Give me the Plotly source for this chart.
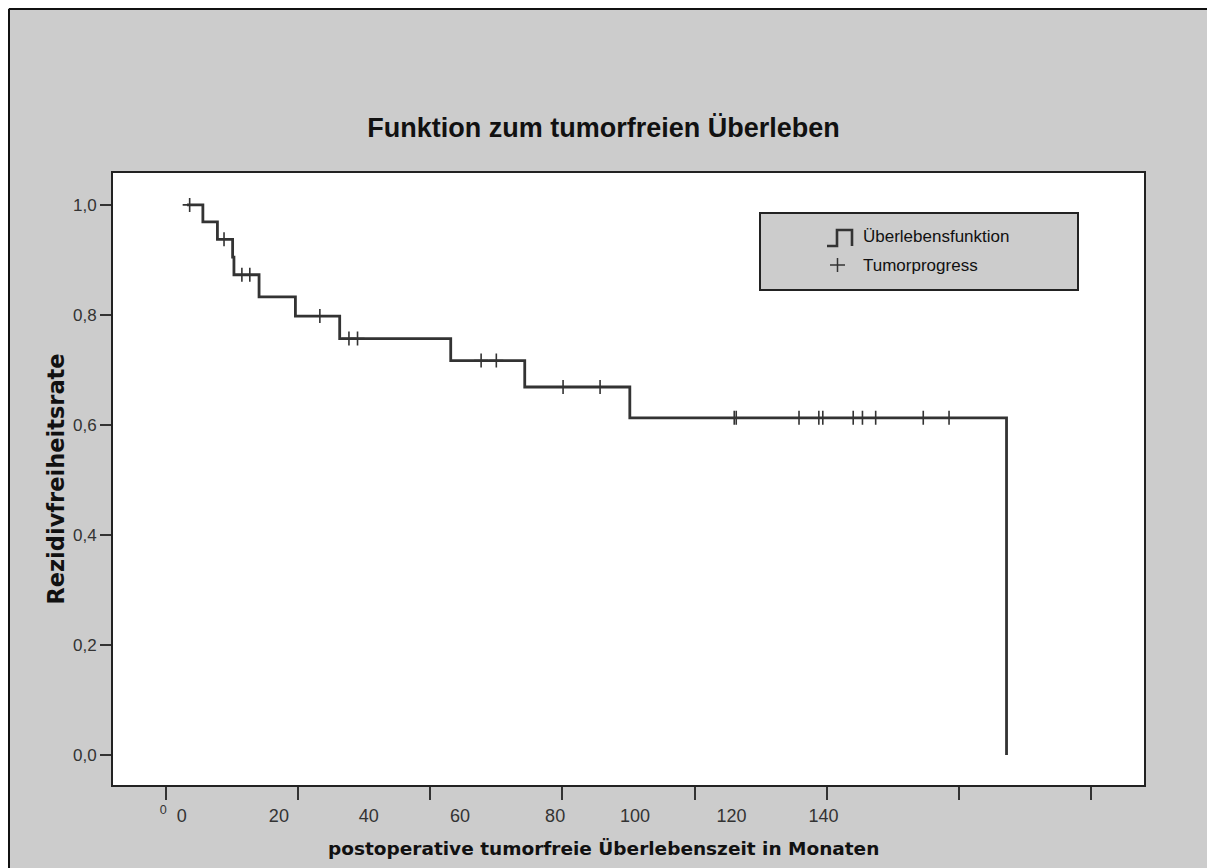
import plotly.graph_objects as go

# ---- data ----
step_times = [3.2, 5.6, 7.8, 10.1, 10.3, 14.1, 19.6, 26.3, 43.1, 54.3, 70.2, 127.2]
step_surv = [1.0, 0.969, 0.9375, 0.905, 0.873, 0.833, 0.798, 0.757, 0.717, 0.669, 0.613, 0.0]

censor_times = [3.6, 8.8, 11.5, 12.7, 23.3, 27.7, 29.0, 47.7, 50.0, 60.1, 65.7,
                86.0, 86.3, 95.8, 98.8, 99.4, 104.0, 105.4, 107.4, 114.6, 118.5]
censor_surv = [1.0, 0.9375, 0.873, 0.873, 0.798, 0.757, 0.757, 0.717, 0.717, 0.669, 0.669,
               0.613, 0.613, 0.613, 0.613, 0.613, 0.613, 0.613, 0.613, 0.613, 0.613]

x_tick_vals = [0, 20, 40, 60, 80, 100, 120, 140]
x_label_text = ["<sup>0</sup>", "0", "20", "40", "60", "80", "100", "120", "140"]
x_label_pos = [-0.4, 2.4, 17.1, 30.7, 44.5, 58.9, 71.0, 85.6, 99.5]
y_tick_vals = [0.0, 0.2, 0.4, 0.6, 0.8, 1.0]

title_text = "Funktion zum tumorfreien Überleben"
x_title = "postoperative tumorfreie Überlebenszeit in Monaten"
y_title = "Rezidivfreiheitsrate"
legend_labels = ["Überlebensfunktion", "Tumorprogress"]

# ---- layout geometry (page pixels; the page adds an 8px body margin) ----
OFF = 8
W, H = 1207, 860
PL, PR, PT, PB = 113, 1144, 173, 785          # plot area on the page
ML, MT = PL - OFF, PT - OFF
MR, MB = W - (PR - OFF), H - (PB - OFF)


def px(xp):
    return (xp - PL) / (PR - PL)


def py(yp):
    return (PB - yp) / (PB - PT)


BG = "#cccccc"
INK = "#333333"
SANS = "Liberation Sans, Arial, sans-serif"

fig = go.Figure()

fig.add_trace(go.Scatter(
    x=step_times, y=step_surv, mode="lines", line_shape="hv",
    line=dict(color=INK, width=2.8), showlegend=False,
    name=legend_labels[0]))

fig.add_trace(go.Scatter(
    x=censor_times, y=censor_surv, mode="markers",
    marker=dict(symbol="cross-thin", size=10, line=dict(color=INK, width=1.6)),
    showlegend=False, name=legend_labels[1]))

# invisible trace that activates the overlay axis carrying the offset tick labels
fig.add_trace(go.Scatter(x=[x_label_pos[0], x_label_pos[-1]], y=[0, 0], xaxis="x2",
                         mode="markers", marker=dict(opacity=0), showlegend=False,
                         hoverinfo="skip"))

fig.update_layout(
    width=W, height=H,
    margin=dict(l=ML, r=MR, t=MT, b=MB, autoexpand=False),
    paper_bgcolor=BG, plot_bgcolor="white",
    separators=",.",
    font=dict(family=SANS, color=INK),
    title=dict(text=title_text, x=(603.5 - OFF) / W, xanchor="center",
               y=1 - (128 - OFF) / H, yanchor="middle",
               font=dict(family=SANS, size=27, color="#111111", weight="bold")),
    xaxis=dict(range=[-8, 148], tickvals=x_tick_vals, showticklabels=False,
               ticks="outside", ticklen=13, tickwidth=2, tickcolor=INK,
               showline=True, linecolor="#222222", linewidth=2, mirror=True,
               showgrid=False, zeroline=False),
    xaxis2=dict(range=[-8, 148], overlaying="x", anchor="y", side="bottom",
                tickvals=x_label_pos, ticktext=x_label_text,
                ticks="outside", ticklen=14, tickcolor="rgba(0,0,0,0)",
                tickfont=dict(family=SANS, size=18, color=INK),
                showline=False, showgrid=False, zeroline=False),
    yaxis=dict(range=[-0.0545, 1.058], tickvals=y_tick_vals, tickformat=".1f",
               ticks="outside", ticklen=11, tickwidth=2, tickcolor=INK,
               tickfont=dict(family=SANS, size=17, color=INK),
               showline=True, linecolor="#222222", linewidth=2, mirror=True,
               showgrid=False, zeroline=False,
               title=dict(text=y_title, standoff=2,
                          font=dict(family="DejaVu Sans", size=22.5, color="#111111",
                                    weight="bold"))),
)

shapes = []
# outer frame (top and left edges visible in the reference)
shapes.append(dict(type="line", xref="paper", yref="paper", x0=px(OFF + 1), x1=px(OFF + W),
                   y0=py(OFF + 1), y1=py(OFF + 1), line=dict(color="#111111", width=2)))
shapes.append(dict(type="line", xref="paper", yref="paper", x0=px(OFF + 1), x1=px(OFF + 1),
                   y0=py(OFF + 1), y1=py(OFF + H), line=dict(color="#111111", width=2)))
# legend box
shapes.append(dict(type="rect", xref="paper", yref="paper", x0=px(760), x1=px(1078),
                   y0=py(290), y1=py(213), fillcolor=BG,
                   line=dict(color="#222222", width=2)))
# step icon of the survival function
step_icon = "M {} {} L {} {} L {} {} L {} {} L {} {}".format(
    px(827), py(246), px(837), py(246), px(837), py(230), px(852), py(230),
    px(852), py(246))
shapes.append(dict(type="path", xref="paper", yref="paper", path=step_icon,
                   line=dict(color=INK, width=2.6)))
# plus icon of the censor marks
shapes.append(dict(type="line", xref="paper", yref="paper", x0=px(830), x1=px(845),
                   y0=py(265), y1=py(265), line=dict(color=INK, width=1.5)))
shapes.append(dict(type="line", xref="paper", yref="paper", x0=px(837.5), x1=px(837.5),
                   y0=py(258), y1=py(272), line=dict(color=INK, width=1.5)))
fig.update_layout(shapes=shapes)

annotations = [
    dict(text=x_title, xref="paper", yref="paper", x=px(603.5), y=py(848),
         xanchor="center", yanchor="middle", showarrow=False,
         font=dict(family="DejaVu Sans", size=18.5, color="#111111", weight="bold")),
]
for lbl, yy in zip(legend_labels, [237, 265]):
    annotations.append(dict(text=lbl, xref="paper", yref="paper", x=px(861), y=py(yy),
                            xanchor="left", yanchor="middle", showarrow=False,
                            font=dict(family=SANS, size=17, color="#111111")))
fig.update_layout(annotations=annotations)

fig.write_html("out.html")
